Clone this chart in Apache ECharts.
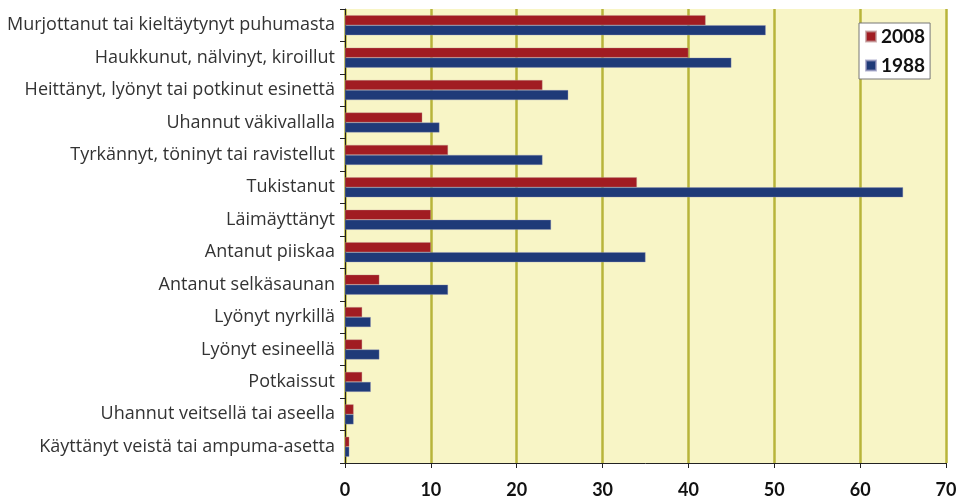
<!DOCTYPE html>
<html>
<head>
<meta charset="utf-8">
<script src="https://cdn.jsdelivr.net/npm/echarts@6/dist/echarts.min.js"></script>
<style>
  html, body { margin: 0; padding: 0; background: #fff; }
  #chart { width: 969px; height: 500px; }
</style>
</head>
<body>
<div id="chart"></div>
<script>
// categories top to bottom
var categories = [
  'Murjottanut tai kieltäytynyt puhumasta',
  'Haukkunut, nälvinyt, kiroillut',
  'Heittänyt, lyönyt tai potkinut esinettä',
  'Uhannut väkivallalla',
  'Tyrkännyt, töninyt tai ravistellut',
  'Tukistanut',
  'Läimäyttänyt',
  'Antanut piiskaa',
  'Antanut selkäsaunan',
  'Lyönyt nyrkillä',
  'Lyönyt esineellä',
  'Potkaissut',
  'Uhannut veitsellä tai aseella',
  'Käyttänyt veistä tai ampuma-asetta'
];
var values2008 = [42, 40, 23, 9, 12, 34, 10, 10, 4, 2, 2, 2, 1, 0.5];
var values1988 = [49, 45, 26, 11, 23, 65, 24, 35, 12, 3, 4, 3, 1, 0.5];
var xTicks = [0, 10, 20, 30, 40, 50, 60, 70];

var chart = echarts.init(document.getElementById('chart'));
chart.setOption({
  animation: false,
  textStyle: { fontFamily: 'Open Sans' },
  grid: {
    left: 345,
    right: 23,
    top: 9,
    bottom: 37,
    show: true,
    backgroundColor: '#f8f5c6',
    borderWidth: 0
  },
  legend: {
    data: ['2008', '1988'],
    orient: 'vertical',
    left: 859,
    top: 23,
    backgroundColor: '#fff',
    borderColor: '#777',
    borderWidth: 1,
    padding: [4, 5, 4, 6],
    itemWidth: 10,
    itemHeight: 10,
    itemGap: 10,
    icon: 'rect',
    textStyle: { fontSize: 19, fontWeight: 'bold', color: '#111', fontFamily: 'Lato' }
  },
  xAxis: {
    type: 'value',
    min: xTicks[0],
    max: xTicks[xTicks.length - 1],
    interval: 10,
    axisLine: { show: true, lineStyle: { color: '#222', width: 1 } },
    axisTick: { show: true, length: 5, lineStyle: { color: '#222' } },
    axisLabel: { margin: 18, fontSize: 18, fontWeight: 'bold', color: '#111', fontFamily: 'Lato' },
    splitLine: { show: true, lineStyle: { color: '#b8b43a', width: 2.5 } }
  },
  yAxis: {
    type: 'category',
    inverse: true,
    data: categories,
    axisLine: { show: true, lineStyle: { color: '#222', width: 1 } },
    axisTick: { show: true, length: 5, lineStyle: { color: '#222' } },
    axisLabel: { margin: 10, fontSize: 18, color: '#333', fontFamily: 'Open Sans' },
    splitLine: { show: false }
  },
  series: [
    {
      name: '2008',
      type: 'bar',
      data: values2008,
      barWidth: 10,
      barGap: '0%',
      itemStyle: { color: '#a11c22', borderColor: 'rgba(190,150,150,0.7)', borderWidth: 0.5 }
    },
    {
      name: '1988',
      type: 'bar',
      data: values1988,
      barWidth: 10,
      itemStyle: { color: '#1f3a78', borderColor: 'rgba(150,150,190,0.7)', borderWidth: 0.5 }
    }
  ]
});
</script>
</body>
</html>
